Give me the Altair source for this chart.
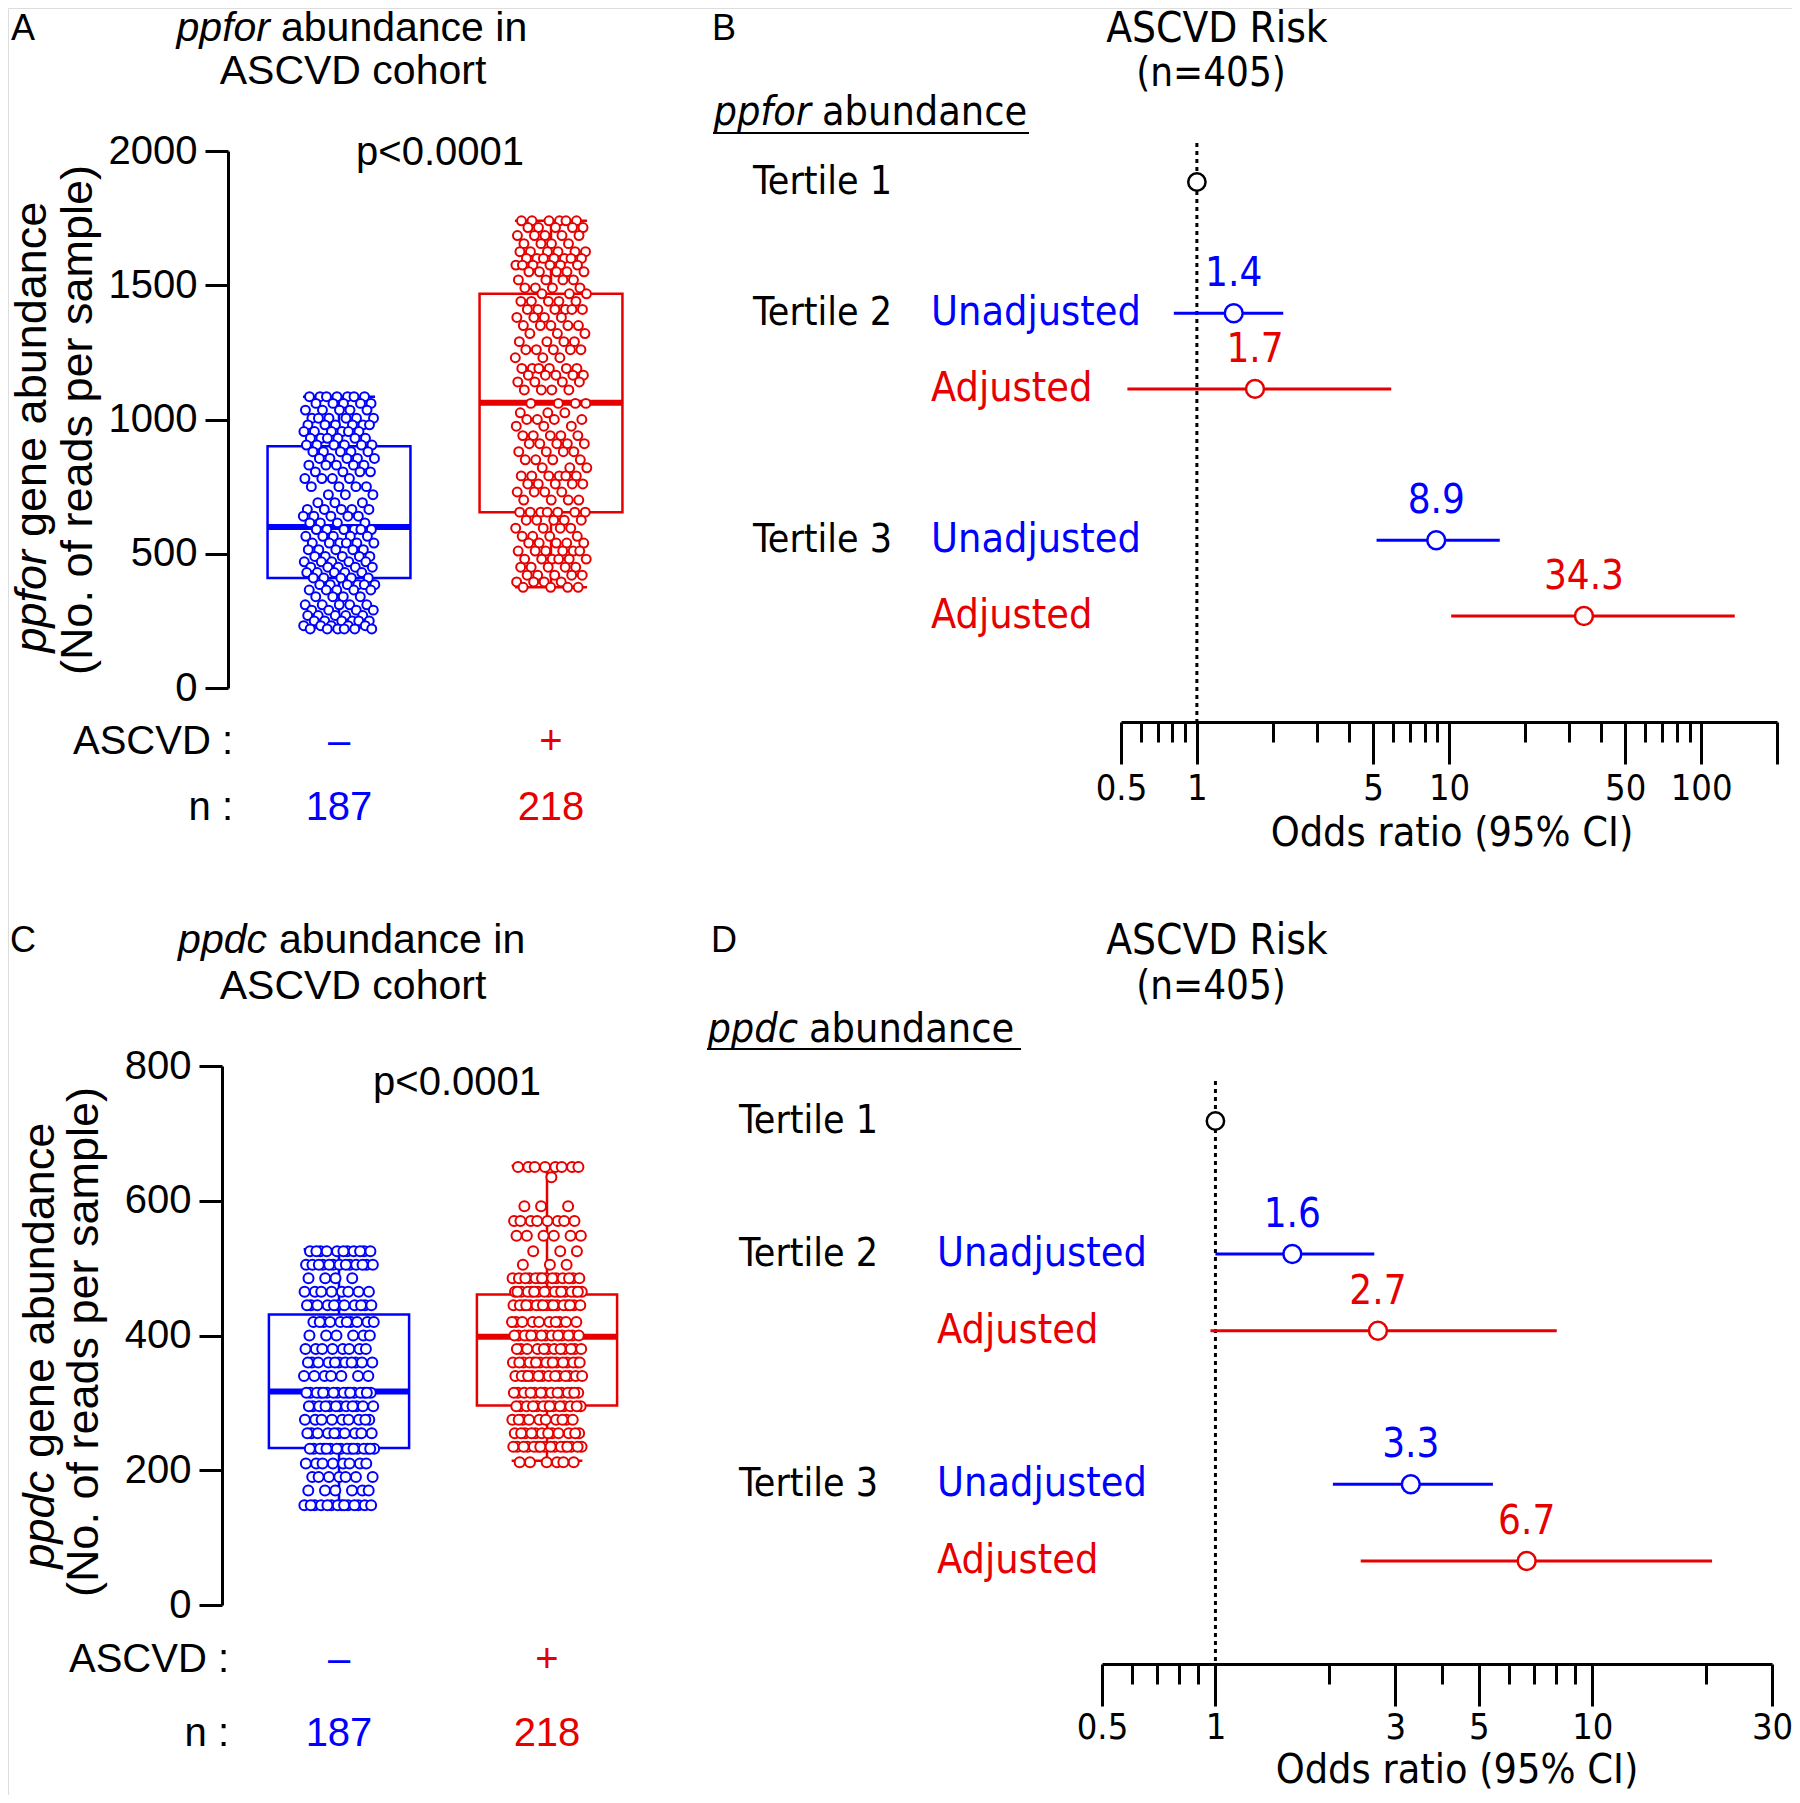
import altair as alt
import pandas as pd

# ---------------- data ----------------
GROUPS = ["neg", "pos"]
GROUP_SYMBOLS = ["–", "+"]
GROUP_N = ["187", "218"]

# Panel A: ppfor abundance (reads per sample), level -> number of samples
A_NEG_LEVELS = [1085, 1060, 1035, 1005, 980, 955, 930, 905,
                880, 855, 830, 805, 780, 750, 720, 690, 665, 640, 615,
                590, 565, 540, 515, 490, 470, 450, 430, 410,
                385, 365, 340, 310, 290, 270, 250, 232, 220]
A_NEG_COUNTS = [7, 5, 5, 6, 6, 6, 6, 6,
                5, 5, 5, 4, 4, 4, 3, 3, 5, 5, 4,
                6, 5, 6, 5, 5, 5, 5, 5, 5,
                6, 5, 4, 5, 4, 5, 6, 5, 6]
A_POS_LEVELS = [1740, 1715, 1685, 1655, 1625, 1600, 1575, 1550, 1520, 1490, 1468,
                1440, 1410, 1380, 1350, 1320, 1290, 1260, 1230, 1190, 1165, 1140, 1110,
                1060, 1025, 1000, 975, 940, 910, 880, 850, 820, 790, 760, 730, 700,
                655, 625, 595, 565, 540, 510, 480, 450, 420, 395, 375]
A_POS_COUNTS = [6, 5, 5, 4, 6, 7, 6, 5, 4, 4, 3,
                5, 6, 4, 5, 3, 4, 5, 3, 6, 5, 4, 4,
                4, 3, 4, 3, 5, 5, 4, 4, 3, 6, 5, 4, 4,
                7, 5, 4, 4, 5, 6, 6, 5, 5, 4, 4]
A_BOX_MIN = [225, 375]
A_BOX_Q1 = [410, 655]
A_BOX_MED = [600, 1062]
A_BOX_Q3 = [900, 1468]
A_BOX_MAX = [1085, 1740]

# Panel C: ppdc abundance
C_NEG_LEVELS = [525, 505, 485, 465, 445, 420, 400, 380, 360, 340,
                315, 295, 275, 255, 232, 210, 190, 170, 148]
C_NEG_COUNTS = [11, 13, 4, 8, 11, 10, 6, 8, 11, 7,
                16, 12, 9, 10, 16, 8, 7, 6, 14]
C_POS_LEVELS = [650, 635, 592, 570, 548, 525, 505, 485, 465, 445, 420,
                400, 380, 360, 340, 315, 295, 275, 255, 235, 212]
C_POS_COUNTS = [8, 1, 3, 8, 6, 3, 3, 14, 17, 17, 10,
                14, 12, 16, 14, 14, 14, 10, 12, 16, 6]
C_BOX_MIN = [150, 214]
C_BOX_Q1 = [233, 296]
C_BOX_MED = [317, 398]
C_BOX_Q3 = [431, 461]
C_BOX_MAX = [528, 652]

# Forest plots (odds ratios with 95% CI)
ROWS = ["T1", "T2U", "T2A", "T3U", "T3A"]
ROW_KIND = ["Reference", "Unadjusted", "Adjusted", "Unadjusted", "Adjusted"]
B_OR = [1.0, 1.4, 1.7, 8.9, 34.3]
B_LO = [None, 0.81, 0.53, 5.16, 10.2]
B_HI = [None, 2.2, 5.9, 15.9, 136.0]
D_OR = [1.0, 1.6, 2.7, 3.3, 6.7]
D_LO = [None, 1.0, 0.97, 2.05, 2.43]
D_HI = [None, 2.64, 8.05, 5.45, 20.8]

B_MAJOR = [0.5, 1, 5, 10, 50, 100, 200]
B_MINOR = [0.6, 0.7, 0.8, 0.9, 2, 3, 4, 6, 7, 8, 9, 20, 30, 40, 60, 70, 80, 90]
D_MAJOR = [0.5, 1, 3, 5, 10, 30]
D_MINOR = [0.6, 0.7, 0.8, 0.9, 2, 4, 6, 7, 8, 9, 20]

# ---------------- layout / style ----------------
W, H = 1784, 1787
BLUE = "#0000ff"
RED = "#e60000"
SANS = "Liberation Sans, Arial, Helvetica, sans-serif"
NARROW = "'Liberation Sans Narrow', 'Arial Narrow', 'DejaVu Sans Condensed', sans-serif"
ROW_SLOT = {"T1": 0.0, "T2U": 2.6, "T2A": 4.1, "T3U": 7.1, "T3A": 8.6}
ONE = pd.DataFrame({"k": [0]})
TOP = 21

layers = []


def note(text, x, y, size=40, font=SANS, align="center", color="black",
         italic=False, angle=None, baseline="middle"):
    kw = dict(text=text, font=font, fontSize=size, align=align, color=color,
              baseline=baseline, fontStyle="italic" if italic else "normal")
    if angle is not None:
        kw["angle"] = angle
    return alt.Chart(ONE).mark_text(**kw).encode(x=alt.value(x), y=alt.value(y))


def expand(levels, counts):
    return [v for v, c in zip(levels, counts) for _ in range(c)]


def box_panel(neg_lv, neg_ct, pos_lv, pos_ct, bmin, bq1, bmed, bq3, bmax,
              xrange, ydom, yrange, axis_x, ticks, sym_y, n_y, pt_size):
    pts = pd.DataFrame({
        "group": ["neg"] * sum(neg_ct) + ["pos"] * sum(pos_ct),
        "value": expand(neg_lv, neg_ct) + expand(pos_lv, pos_ct),
    })
    box = pd.DataFrame({"group": GROUPS, "lo": bmin, "q1": bq1, "med": bmed,
                        "q3": bq3, "hi": bmax})
    cat = pd.DataFrame({"group": GROUPS, "sym": GROUP_SYMBOLS, "n": GROUP_N})
    xs = alt.Scale(domain=[0, 1], range=xrange, nice=False, zero=False)
    ys = alt.Scale(domain=ydom, range=yrange, nice=False, zero=False)
    col = alt.when(alt.datum.group == "pos").then(alt.value(RED)).otherwise(alt.value(BLUE))
    gexpr = "datum.group == 'pos' ? 1 : 0"

    bb = alt.Chart(box).transform_calculate(g=gexpr).transform_calculate(
        xl="datum.g - 0.337", xr="datum.g + 0.337",
        cl="datum.g - 0.17", cr="datum.g + 0.17")
    yaxis = alt.Axis(orient="left", offset=-axis_x, values=ticks, format="d",
                     tickSize=23, tickWidth=3, domainWidth=3, labelFontSize=40,
                     labelFont=SANS, labelPadding=8, labelColor="black",
                     tickColor="black", domainColor="black", title=None, grid=False,
                     labelFlush=False, labelOverlap=False)
    out = []
    out.append(bb.mark_rect(fillOpacity=0, strokeWidth=2.5).encode(
        x=alt.X("xl:Q", scale=xs, axis=None), x2="xr:Q",
        y=alt.Y("q1:Q", scale=ys, axis=yaxis), y2="q3:Q", stroke=col))
    out.append(bb.mark_rule(strokeWidth=2.5).encode(
        x=alt.X("g:Q", scale=xs, axis=None),
        y=alt.Y("q3:Q", scale=ys, axis=None), y2="hi:Q", stroke=col))
    out.append(bb.mark_rule(strokeWidth=2.5).encode(
        x=alt.X("g:Q", scale=xs, axis=None),
        y=alt.Y("lo:Q", scale=ys, axis=None), y2="q1:Q", stroke=col))
    out.append(bb.mark_rule(strokeWidth=2.5).encode(
        x=alt.X("cl:Q", scale=xs, axis=None), x2="cr:Q",
        y=alt.Y("hi:Q", scale=ys, axis=None), stroke=col))
    out.append(bb.mark_rule(strokeWidth=2.5).encode(
        x=alt.X("cl:Q", scale=xs, axis=None), x2="cr:Q",
        y=alt.Y("lo:Q", scale=ys, axis=None), stroke=col))
    out.append(bb.mark_rule(strokeWidth=6).encode(
        x=alt.X("xl:Q", scale=xs, axis=None), x2="xr:Q",
        y=alt.Y("med:Q", scale=ys, axis=None), stroke=col))
    out.append(alt.Chart(pts).transform_window(
        idx="row_number()", groupby=["group"]
    ).transform_calculate(g=gexpr).transform_calculate(
        jx="datum.g + ((datum.idx * 0.6180339887) % 1 - 0.5) * 0.34"
    ).mark_point(shape="circle", size=pt_size, strokeWidth=2, filled=True,
                 fill="white", opacity=1).encode(
        x=alt.X("jx:Q", scale=xs, axis=None),
        y=alt.Y("value:Q", scale=ys, axis=None), stroke=col))
    cc = alt.Chart(cat).transform_calculate(g=gexpr)
    out.append(cc.mark_text(font=SANS, fontSize=40, baseline="middle").encode(
        x=alt.X("g:Q", scale=xs, axis=None), y=alt.value(sym_y),
        text="sym:N", color=col))
    out.append(cc.mark_text(font=SANS, fontSize=40, baseline="middle").encode(
        x=alt.X("g:Q", scale=xs, axis=None), y=alt.value(n_y),
        text="n:N", color=col))
    return out


def forest_panel(or_, lo, hi, xdom, xrange, yrange, major, minor, axis_y,
                 label_pad, rule_top, tert_x, kind_x):
    df = pd.DataFrame({"row": ROWS, "kind": ROW_KIND, "or": or_, "lo": lo, "hi": hi})
    df["slot"] = df["row"].map(ROW_SLOT)
    df["lab"] = [f"{v:g}" for v in or_]
    ref = df.iloc[:1].copy()
    est = df.iloc[1:].copy()
    tert = pd.DataFrame({"row": ["T1", "T2U", "T3U"],
                         "t": ["Tertile 1", "Tertile 2", "Tertile 3"]})
    tert["slot"] = tert["row"].map(ROW_SLOT)
    xs = alt.Scale(type="log", domain=xdom, range=xrange, nice=False)
    ys = alt.Scale(domain=[0, 8.6], range=yrange, nice=False, zero=False)
    col = alt.when(alt.datum.kind == "Adjusted").then(alt.value(RED)).otherwise(alt.value(BLUE))
    one = pd.DataFrame({"v": [1.0]})
    out = []
    out.append(alt.Chart(one).mark_rule(strokeDash=[4, 4], strokeWidth=3, color="black").encode(
        x=alt.X("v:Q", scale=xs, axis=alt.Axis(
            orient="bottom", offset=axis_y - H, values=major,
            labelExpr="datum.value == 200 ? '' : toString(datum.value)",
            tickSize=42, tickWidth=3, domainWidth=3, labelFont=NARROW,
            labelFontSize=36, labelPadding=label_pad, labelFlush=False,
            labelOverlap=False, labelColor="black", tickColor="black",
            domainColor="black", title=None, grid=False)),
        y=alt.value(rule_top), y2=alt.value(axis_y)))
    out.append(alt.Chart(one).mark_point(opacity=0).encode(
        x=alt.X("v:Q", scale=xs, axis=alt.Axis(
            orient="bottom", offset=axis_y - H, values=minor, labels=False,
            tickSize=20, tickWidth=3, domain=False, tickColor="black",
            title=None, grid=False)),
        y=alt.value(axis_y)))
    out.append(alt.Chart(est).mark_rule(strokeWidth=3).encode(
        x=alt.X("lo:Q", scale=xs, axis=None), x2="hi:Q",
        y=alt.Y("slot:Q", scale=ys, axis=None), stroke=col))
    out.append(alt.Chart(est).mark_point(shape="circle", size=320, strokeWidth=2.5,
                                         filled=True, fill="white", opacity=1).encode(
        x=alt.X("or:Q", scale=xs, axis=None),
        y=alt.Y("slot:Q", scale=ys, axis=None), stroke=col))
    out.append(alt.Chart(ref).mark_point(shape="circle", size=300, strokeWidth=2.5,
                                         filled=True, fill="white", stroke="black",
                                         opacity=1).encode(
        x=alt.X("or:Q", scale=xs, axis=None),
        y=alt.Y("slot:Q", scale=ys, axis=None)))
    out.append(alt.Chart(est).mark_text(font=NARROW, fontSize=40, dy=-39,
                                        baseline="middle").encode(
        x=alt.X("or:Q", scale=xs, axis=None),
        y=alt.Y("slot:Q", scale=ys, axis=None), text="lab:N", color=col))
    out.append(alt.Chart(est).mark_text(font=NARROW, fontSize=41, align="left",
                                        baseline="middle").encode(
        x=alt.value(kind_x), y=alt.Y("slot:Q", scale=ys, axis=None),
        text="kind:N", color=col))
    out.append(alt.Chart(tert).mark_text(font=NARROW, fontSize=39, align="left",
                                         baseline="middle", color="black").encode(
        x=alt.value(tert_x), y=alt.Y("slot:Q", scale=ys, axis=None), text="t:N"))
    return out


# ---------------- panel A ----------------
layers += box_panel(A_NEG_LEVELS, A_NEG_COUNTS, A_POS_LEVELS, A_POS_COUNTS,
                    A_BOX_MIN, A_BOX_Q1, A_BOX_MED, A_BOX_Q3, A_BOX_MAX,
                    xrange=[331, 543], ydom=[0, 2000], yrange=[680, 143], axis_x=220,
                    ticks=[0, 500, 1000, 1500, 2000], sym_y=734, n_y=800, pt_size=80)
layers += [
    note("A", 15, TOP, size=36),
    note("ppfor", 262, TOP, size=41, align="right", italic=True),
    note("abundance in", 273, TOP, size=41, align="left"),
    note("ASCVD cohort", 345, 64, size=41),
    note("p<0.0001", 432, 145, size=40),
    note("ppfor", 24, 542, size=45, align="right", italic=True, angle=270),
    note("gene abundance", 24, 529, size=45, align="left", angle=270),
    note("(No. of reads per sample)", 70, 412, size=45, angle=270),
    note("ASCVD :", 225, 734, size=40, align="right"),
    note("n :", 225, 800, size=40, align="right"),
]

# ---------------- panel C ----------------
layers += box_panel(C_NEG_LEVELS, C_NEG_COUNTS, C_POS_LEVELS, C_POS_COUNTS,
                    C_BOX_MIN, C_BOX_Q1, C_BOX_MED, C_BOX_Q3, C_BOX_MAX,
                    xrange=[331, 539], ydom=[0, 800], yrange=[1597, 1058], axis_x=214,
                    ticks=[0, 200, 400, 600, 800], sym_y=1652, n_y=1726, pt_size=100)
layers += [
    note("C", 15, 933, size=36),
    note("ppdc", 259, 933, size=41, align="right", italic=True),
    note("abundance in", 271, 933, size=41, align="left"),
    note("ASCVD cohort", 345, 979, size=41),
    note("p<0.0001", 449, 1075, size=40),
    note("ppdc", 32, 1463, size=45, align="right", italic=True, angle=270),
    note("gene abundance", 32, 1450, size=45, align="left", angle=270),
    note("(No. of reads per sample)", 76, 1334, size=45, angle=270),
    note("ASCVD :", 221, 1652, size=40, align="right"),
    note("n :", 221, 1726, size=40, align="right"),
]

# ---------------- panel B ----------------
layers += forest_panel(B_OR, B_LO, B_HI, xdom=[0.5, 200], xrange=[1113, 1769],
                       yrange=[174, 608], major=B_MAJOR, minor=B_MINOR, axis_y=714,
                       label_pad=7, rule_top=135, tert_x=745, kind_x=923)
layers += [
    note("B", 716, TOP, size=36),
    note("ASCVD Risk", 1209, TOP, size=42, font=NARROW),
    note("(n=405)", 1203, 66, size=40, font=NARROW),
    note("ppfor", 803, 105, size=41, font=NARROW, align="right", italic=True),
    note("abundance", 814, 105, size=41, font=NARROW, align="left"),
    alt.Chart(ONE).mark_rule(strokeWidth=2, color="black").encode(
        x=alt.value(705), x2=alt.value(1021), y=alt.value(125)),
    note("Odds ratio (95% CI)", 1444, 826, size=41, font=NARROW),
]

# ---------------- panel D ----------------
layers += forest_panel(D_OR, D_LO, D_HI, xdom=[0.5, 30], xrange=[1094, 1764],
                       yrange=[1113, 1553], major=D_MAJOR, minor=D_MINOR, axis_y=1656,
                       label_pad=4, rule_top=1073, tert_x=731, kind_x=929)
layers += [
    note("D", 716, 933, size=36),
    note("ASCVD Risk", 1209, 933, size=42, font=NARROW),
    note("(n=405)", 1203, 979, size=40, font=NARROW),
    note("ppdc", 790, 1022, size=41, font=NARROW, align="right", italic=True),
    note("abundance", 801, 1022, size=41, font=NARROW, align="left"),
    alt.Chart(ONE).mark_rule(strokeWidth=2, color="black").encode(
        x=alt.value(699), x2=alt.value(1013), y=alt.value(1041)),
    note("Odds ratio (95% CI)", 1449, 1763, size=41, font=NARROW),
]

chart = alt.layer(*layers).resolve_scale(
    x="independent", y="independent"
).properties(
    width=W, height=H, padding=0,
    autosize=alt.AutoSizeParams(type="none"),
).configure_view(stroke=None).configure(background="white")

chart.save("out.html", embed_options={"renderer": "svg", "actions": False})
